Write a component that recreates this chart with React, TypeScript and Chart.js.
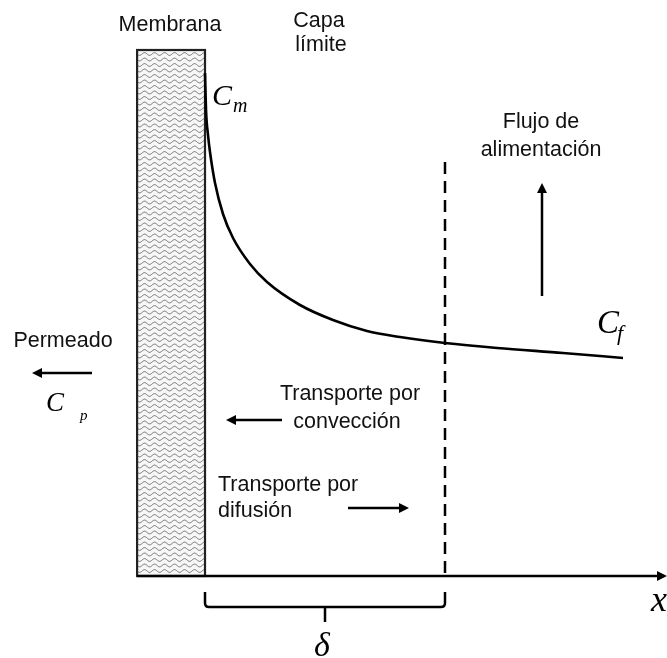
import React, { useEffect, useRef } from "react";
import { Chart, registerables } from "chart.js";

Chart.register(...registerables);

// Concentration profile: distance in units of the boundary-layer thickness (δ = 1),
// concentration in arbitrary units (membrane surface at x = 0)
const distance = [0, 0.0042, 0.0125, 0.0208, 0.0417, 0.075, 0.1167, 0.1875, 0.2583, 0.3958, 0.5333, 0.675, 0.8125, 1.0, 1.2167, 1.4917, 1.7417];
const concentration = [5.03, 4.66, 4.41, 4.24, 3.93, 3.62, 3.38, 3.12, 2.94, 2.71, 2.56, 2.45, 2.39, 2.33, 2.28, 2.23, 2.18];

const xMin = -0.8542;
const xMax = 1.925;
const yMin = -0.82;
const yMax = 5.76;

const membraneStart = -0.283;
const membraneEnd = 0;
const membraneTop = 5.26;
const deltaPos = 1.0;
const dashedTop = 4.14;

const SANS = '"Liberation Sans", Arial, sans-serif';
const SERIF = '"Liberation Serif", "Times New Roman", serif';

function arrow(ctx: CanvasRenderingContext2D, x1: number, y1: number, x2: number, y2: number) {
  const ang = Math.atan2(y2 - y1, x2 - x1);
  const hl = 10;
  const hw = 5;
  const bx = x2 - hl * Math.cos(ang);
  const by = y2 - hl * Math.sin(ang);
  ctx.beginPath();
  ctx.moveTo(x1, y1);
  ctx.lineTo(bx, by);
  ctx.lineWidth = 2.5;
  ctx.strokeStyle = "#000";
  ctx.stroke();
  ctx.beginPath();
  ctx.moveTo(x2, y2);
  ctx.lineTo(bx + hw * Math.sin(ang), by - hw * Math.cos(ang));
  ctx.lineTo(bx - hw * Math.sin(ang), by + hw * Math.cos(ang));
  ctx.closePath();
  ctx.fillStyle = "#000";
  ctx.fill();
}

const diagramPlugin = {
  id: "diagram",
  beforeDatasetsDraw(chart: any) {
    const ctx: CanvasRenderingContext2D = chart.ctx;
    const xs = chart.scales.x;
    const ys = chart.scales.y;
    const px = (v: number) => xs.getPixelForValue(v);
    const py = (v: number) => ys.getPixelForValue(v);
    ctx.save();

    // membrane
    const mL = px(membraneStart), mR = px(membraneEnd), mT = py(membraneTop), mB = py(0);
    ctx.fillStyle = "#f7f7f7";
    ctx.fillRect(mL, mT, mR - mL, mB - mT);
    ctx.save();
    ctx.beginPath();
    ctx.rect(mL, mT, mR - mL, mB - mT);
    ctx.clip();
    ctx.strokeStyle = "#6e6e6e";
    ctx.lineWidth = 1;
    for (let yy = mT + 4; yy < mB; yy += 5.5) {
      ctx.beginPath();
      for (let xx = mL; xx <= mR; xx += 0.5) {
        const w = yy + 1.4 * Math.sin(((xx - mL) / 10) * Math.PI * 2);
        if (xx === mL) ctx.moveTo(xx, w);
        else ctx.lineTo(xx, w);
      }
      ctx.stroke();
    }
    ctx.restore();
    ctx.strokeStyle = "#222";
    ctx.lineWidth = 2.2;
    ctx.strokeRect(mL, mT, mR - mL, mB - mT);

    // dashed boundary-layer line
    ctx.beginPath();
    ctx.setLineDash([12, 7]);
    ctx.moveTo(px(deltaPos), py(dashedTop));
    ctx.lineTo(px(deltaPos), py(0));
    ctx.lineWidth = 2.5;
    ctx.strokeStyle = "#000";
    ctx.stroke();
    ctx.setLineDash([]);

    // x axis
    const ax = py(0);
    arrow(ctx, mL, ax, chart.width, ax);

    // brace
    const bL = px(0), bR = px(deltaPos), bM = (bL + bR) / 2;
    ctx.beginPath();
    ctx.lineWidth = 2.5;
    ctx.moveTo(bL, ax + 16);
    ctx.lineTo(bL, ax + 27);
    ctx.quadraticCurveTo(bL, ax + 31, bL + 4, ax + 31);
    ctx.lineTo(bR - 4, ax + 31);
    ctx.quadraticCurveTo(bR, ax + 31, bR, ax + 27);
    ctx.lineTo(bR, ax + 16);
    ctx.moveTo(bM, ax + 31);
    ctx.lineTo(bM, ax + 46);
    ctx.stroke();

    // arrows
    arrow(ctx, 92, 373, 32, 373);
    arrow(ctx, 282, 420, 226, 420);
    arrow(ctx, 348, 508, 409, 508);
    arrow(ctx, 542, 296, 542, 183);

    // sans labels
    ctx.fillStyle = "#111";
    ctx.font = `21.5px ${SANS}`;
    ctx.textBaseline = "alphabetic";
    ctx.textAlign = "center";
    ctx.fillText("Membrana", 170, 31);
    ctx.fillText("Capa", 319, 27);
    ctx.fillText("límite", 321, 51);
    ctx.fillText("Flujo de", 541, 128);
    ctx.fillText("alimentación", 541, 156);
    ctx.fillText("Permeado", 63, 347);
    ctx.fillText("Transporte por", 350, 400);
    ctx.fillText("convección", 347, 428);
    ctx.textAlign = "left";
    ctx.fillText("Transporte por", 218, 491);
    ctx.fillText("difusión", 218, 517);

    // italic serif symbols
    ctx.fillStyle = "#000";
    ctx.font = `italic 30px ${SERIF}`;
    ctx.fillText("C", 212, 105);
    ctx.font = `italic 33px ${SERIF}`;
    ctx.fillText("C", 597, 333);
    ctx.font = `italic 20px ${SERIF}`;
    ctx.fillText("m", 233, 112);
    ctx.font = `italic 22px ${SERIF}`;
    ctx.fillText("f", 617, 340);
    ctx.font = `italic 27px ${SERIF}`;
    ctx.fillText("C", 46, 411);
    ctx.font = `italic 15px ${SERIF}`;
    ctx.fillText("p", 80, 420);
    ctx.font = `italic 34px ${SERIF}`;
    ctx.textAlign = "center";
    ctx.fillText("δ", 322, 656);
    ctx.textAlign = "left";
    ctx.font = `italic 36px ${SERIF}`;
    ctx.fillText("x", 651, 611);

    ctx.restore();
  },
};

export default function App() {
  const canvasRef = useRef<HTMLCanvasElement | null>(null);

  useEffect(() => {
    const canvas = canvasRef.current;
    if (!canvas) return;
    const chart = new Chart(canvas, {
      type: "line",
      data: {
        datasets: [
          {
            data: distance.map((d, i) => ({ x: d, y: concentration[i] })),
            borderColor: "#000",
            borderWidth: 2.6,
            pointRadius: 0,
            cubicInterpolationMode: "monotone",
            fill: false,
          },
        ],
      },
      options: {
        responsive: false,
        animation: false,
        layout: { padding: 0 },
        plugins: { legend: { display: false }, tooltip: { enabled: false } },
        scales: {
          x: { type: "linear", min: xMin, max: xMax, display: false },
          y: { type: "linear", min: yMin, max: yMax, display: false },
        },
      },
      plugins: [diagramPlugin],
    });
    return () => chart.destroy();
  }, []);

  return (
    <div style={{ position: "fixed", left: 0, top: 0, width: 667, height: 658, background: "#fff" }}>
      <canvas ref={canvasRef} width={667} height={658} />
    </div>
  );
}
